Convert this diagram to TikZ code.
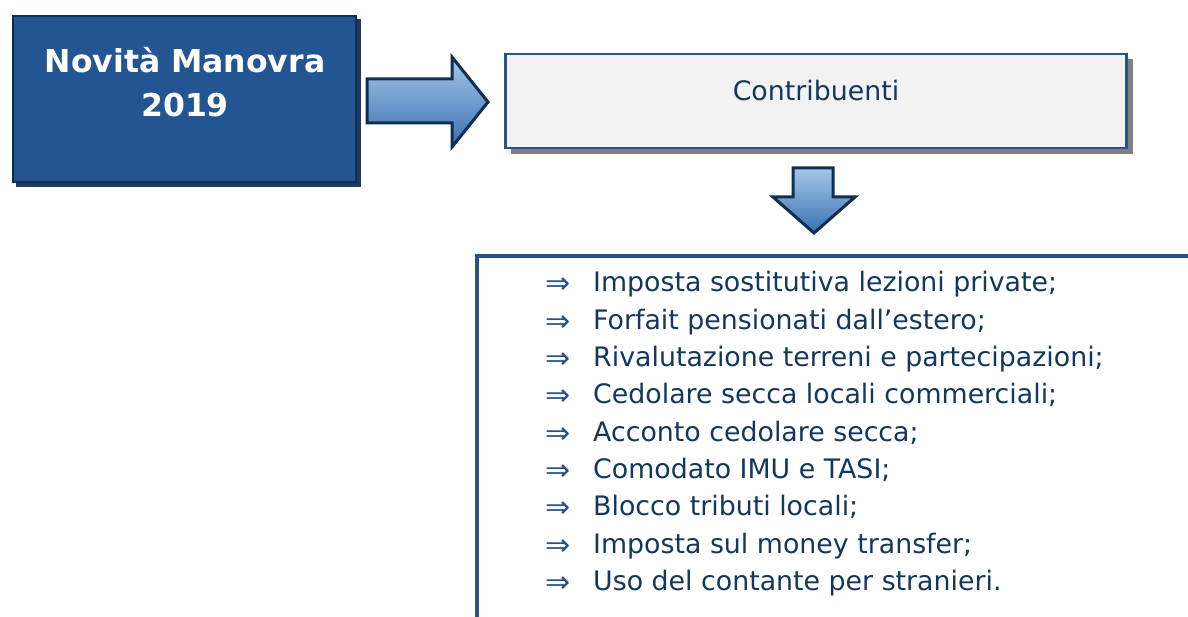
\documentclass[tikz,border=0pt]{standalone}
\usepackage{fontspec}
\setmainfont{DejaVu Sans}
\begin{document}
\begin{tikzpicture}[x=1pt,y=-1pt]
\definecolor{boxblue}{HTML}{245593}
\definecolor{darknavy}{HTML}{0E2F50}
\definecolor{shadowblue}{HTML}{1F3A5C}
\definecolor{linecol}{HTML}{2A5189}
\definecolor{textnavy}{HTML}{14375D}
\definecolor{lightfill}{HTML}{F2F2F2}
\definecolor{gtop}{HTML}{A5C6E8}
\definecolor{gbot}{HTML}{3A71B0}
\definecolor{shadowgray}{HTML}{808080}
\tikzset{
  titlebox/.style={draw=darknavy, line width=2.5pt, fill=boxblue, minimum width=343pt, minimum height=166pt, inner sep=0pt},
  contbox/.style={draw=linecol, line width=2.2pt, fill=lightfill, minimum width=621pt, minimum height=94pt, inner sep=0pt},
  blockarrow/.style={draw=darknavy, line width=3pt, top color=gtop, bottom color=gbot, line join=miter},
  itemtext/.style={anchor=base west, text=textnavy, font=\fontsize{26.8pt}{30pt}\selectfont, inner sep=0pt},
  itemarrow/.style={anchor=base west, text=linecol, font=\fontsize{30pt}{30pt}\selectfont, inner sep=0pt},
}
\useasboundingbox (0,0) rectangle (1188,617);
\fill[white] (0,0) rectangle (1188,617);
% title box with shadow
\fill[shadowblue] (16,19) rectangle (361,187);
\node[titlebox] (title) at (184.5,99) {};
\node[anchor=base, text=white, font=\fontsize{31.5pt}{44pt}\selectfont\bfseries, align=center, inner sep=0pt] (titletext) at (185,117) {Novità Manovra\\2019};
% right arrow
\path[blockarrow] (367,79) -- (452,79) -- (452,57) -- (488,102) -- (452,147) -- (452,123) -- (367,123) -- cycle;
% contribuenti box with shadow
\fill[shadowgray] (511,59) rectangle (1133,154);
\node[contbox] (cont) at (816,101) {};
\node[anchor=base, text=textnavy, font=\fontsize{26.8pt}{30pt}\selectfont, inner sep=0pt] (conttext) at (816,101) {Contribuenti};
% down arrow
\path[blockarrow] (793,168) -- (833,168) -- (833,197) -- (855,197) -- (814,233) -- (773,197) -- (793,197) -- cycle;
% list frame
\draw[linecol, line width=4pt] (477,617) -- (477,256) -- (1188,256);
% items
\foreach \t [count=\i from 0] in {Imposta sostitutiva lezioni private;,Forfait pensionati dall’estero;,Rivalutazione terreni e partecipazioni;,Cedolare secca locali commerciali;,Acconto cedolare secca;,Comodato IMU e TASI;,Blocco tributi locali;,Imposta sul money transfer;,Uso del contante per stranieri.}{
  \node[itemarrow] (a\i) at (545,294+37.3*\i) {⇒};
  \node[itemtext] (t\i) at (593,292+37.3*\i) {\t};
}
\end{tikzpicture}
\end{document}
